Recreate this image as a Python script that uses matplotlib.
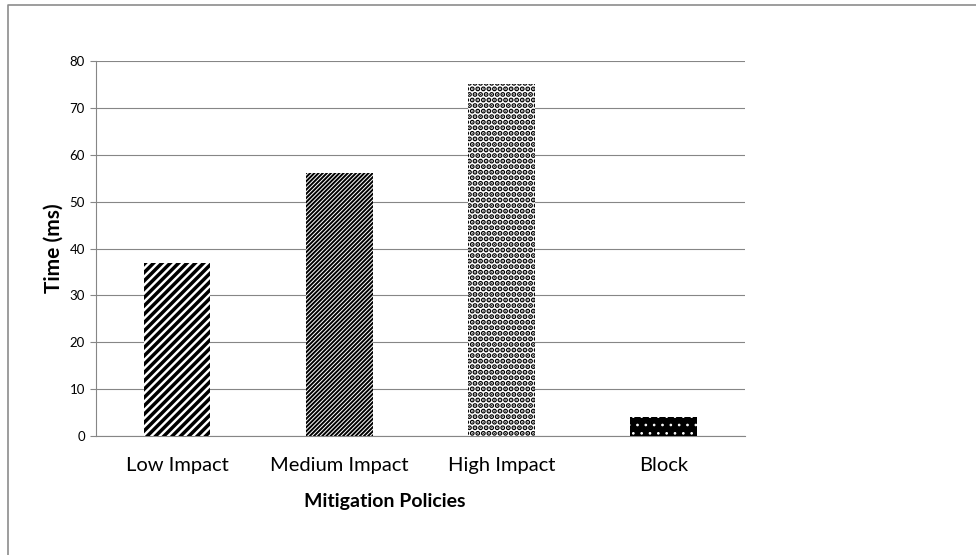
import matplotlib.pyplot as plt
from matplotlib.lines import Line2D

policies = ['Low Impact', 'Medium Impact', 'High Impact', 'Block']
times_ms = [37, 56, 75, 4]
hatches = ['////', '////////', '...', '..']
faces = ['white', 'white', 'white', 'black']
hatch_colors = ['black', 'black', 'black', 'white']
hatch_widths = [2.5, 1.4, 2.6, 0.7]
y_ticks = [0, 10, 20, 30, 40, 50, 60, 70, 80]

plt.rcParams['font.family'] = ['Lato', 'DejaVu Sans']
grey = '#868686'

fig = plt.figure(figsize=(9.76, 5.55), dpi=100)
ax = fig.add_axes([0.0984, 0.2144, 0.6646, 0.6757])

x = range(len(policies))
for i in x:
    bar = ax.bar(i, times_ms[i], width=0.41, color=faces[i], edgecolor=hatch_colors[i],
                 linewidth=0, hatch=hatches[i], zorder=3)[0]
    if hasattr(bar, 'set_hatch_linewidth'):
        bar.set_hatch_linewidth(hatch_widths[i])

ax.set_xlim(-0.5, len(policies) - 0.5)
ax.set_ylim(0, 80)
ax.set_yticks(y_ticks)
ax.set_xticks(list(x))
ax.set_xticklabels(policies, fontsize=14.5)
ax.tick_params(axis='y', labelsize=9.5, length=4, color=grey, pad=4)
ax.tick_params(axis='x', length=0, pad=15)
ax.grid(axis='y', color=grey, linewidth=0.8, zorder=0)
ax.set_axisbelow(True)
for side in ['top', 'right']:
    ax.spines[side].set_visible(False)
for side in ['left', 'bottom']:
    ax.spines[side].set_color(grey)
    ax.spines[side].set_linewidth(0.8)

fig.text(54 / 976, 1 - 248 / 555, 'Time (ms)', rotation=90, fontsize=15,
         fontweight='bold', ha='center', va='center')
fig.text(385 / 976, 1 - 502 / 555, 'Mitigation Policies', fontsize=14,
         fontweight='bold', ha='center', va='center')

# outer frame (top and left edges only)
fig.add_artist(Line2D([8 / 976, 8 / 976, 1], [0, 1 - 5 / 555, 1 - 5 / 555],
                      transform=fig.transFigure, color='#8c8c8c', linewidth=1.2))

fig.savefig('out.png', dpi=100)
